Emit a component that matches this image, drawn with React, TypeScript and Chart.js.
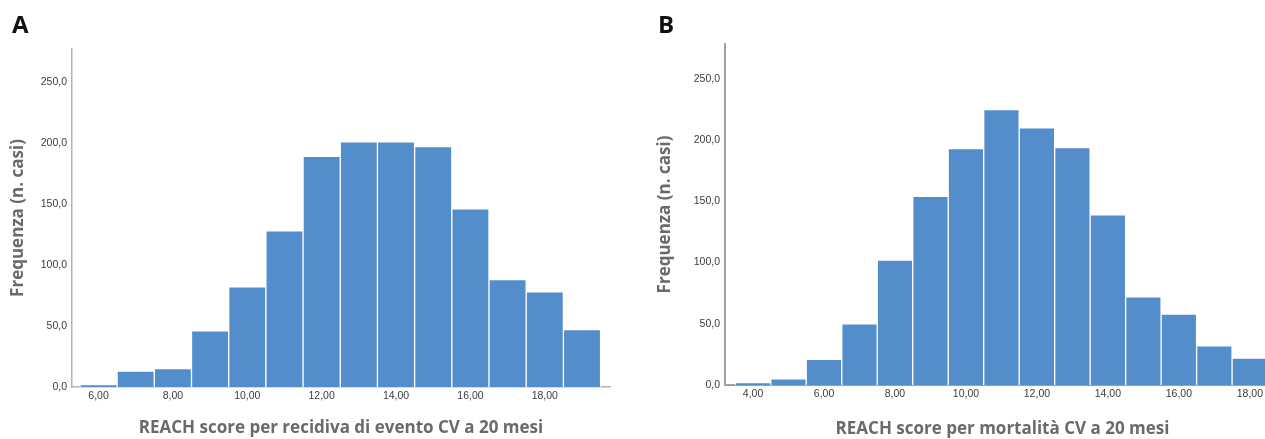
import React, { useEffect, useRef } from 'react';
import { Chart, registerables } from 'chart.js';

Chart.register(...registerables);

// ---- Data ----
const scoresA = [6, 7, 8, 9, 10, 11, 12, 13, 14, 15, 16, 17, 18, 19];
const countsA = [2, 13, 15, 46, 82, 128, 189, 201, 201, 197, 146, 88, 78, 47];
const xTicksA = [6, 8, 10, 12, 14, 16, 18];

const scoresB = [4, 5, 6, 7, 8, 9, 10, 11, 12, 13, 14, 15, 16, 17, 18];
const countsB = [2, 5, 21, 50, 102, 154, 193, 225, 210, 194, 139, 72, 58, 32, 22];
const xTicksB = [4, 6, 8, 10, 12, 14, 16, 18];

const yTicks = [0, 50, 100, 150, 200, 250];

const titleA = 'REACH score per recidiva di evento CV a 20 mesi';
const titleB = 'REACH score per mortalità CV a 20 mesi';
const yTitle = 'Frequenza (n. casi)';

const BAR_COLOR = '#548dcc';
const TITLE_COLOR = '#6a6a6a';
const TICK_COLOR = '#3c3c3c';

const fmtY = (v: number) => Number(v).toFixed(1).replace('.', ',');
const fmtX = (v: number) => Number(v).toFixed(2).replace('.', ',');

type PanelProps = {
  scores: number[];
  counts: number[];
  xTicks: number[];
  xMin: number;
  xMax: number;
  yMax: number;
  xTitle: string;
  width: number;
  height: number;
  padTop: number;
  padRight: number;
  yWidth: number;
  xHeight: number;
  yTitlePad: number;
  xTitlePadBottom: number;
  axisColor: string;
  axisWidth: number;
};

function Panel(p: PanelProps) {
  const ref = useRef<HTMLCanvasElement | null>(null);
  useEffect(() => {
    if (!ref.current) return;
    const chart = new Chart(ref.current, {
      type: 'bar',
      data: {
        datasets: [
          {
            data: p.scores.map((s, i) => ({ x: s, y: p.counts[i] })),
            backgroundColor: BAR_COLOR,
            borderColor: 'rgba(255,255,255,0.9)',
            borderWidth: 1,
            borderSkipped: 'start',
            barPercentage: 1,
            categoryPercentage: 1,
          } as any,
        ],
      },
      options: {
        responsive: false,
        animation: false,
        devicePixelRatio: 1,
        layout: { padding: { top: p.padTop, right: p.padRight, bottom: 0, left: 0 } },
        plugins: { legend: { display: false }, tooltip: { enabled: false } },
        scales: {
          x: {
            type: 'linear',
            min: p.xMin,
            max: p.xMax,
            offset: false,
            grid: { display: false, drawTicks: false },
            border: { display: true, color: p.axisColor, width: p.axisWidth },
            afterBuildTicks: (s: any) => {
              s.ticks = p.xTicks.map((v) => ({ value: v }));
            },
            afterFit: (s: any) => {
              s.height = p.xHeight;
            },
            ticks: {
              padding: 3,
              autoSkip: false,
              maxRotation: 0,
              color: TICK_COLOR,
              font: { family: 'Liberation Sans', size: 10.5 },
              callback: (v: any) => fmtX(v),
            },
            title: {
              display: true,
              text: p.xTitle,
              color: TITLE_COLOR,
              font: { family: 'Open Sans', size: 17, weight: 'bold' },
              padding: { top: 0, bottom: p.xTitlePadBottom },
            },
          },
          y: {
            type: 'linear',
            min: 0,
            max: p.yMax,
            grid: { display: false, drawTicks: false },
            border: { display: true, color: p.axisColor, width: p.axisWidth },
            afterBuildTicks: (s: any) => {
              s.ticks = yTicks.map((v) => ({ value: v }));
            },
            afterFit: (s: any) => {
              s.width = p.yWidth;
            },
            ticks: {
              padding: 5,
              color: TICK_COLOR,
              font: { family: 'Liberation Sans', size: 10.5 },
              callback: (v: any) => fmtY(v),
            },
            title: {
              display: true,
              text: yTitle,
              color: TITLE_COLOR,
              font: { family: 'Open Sans', size: 17, weight: 'bold' },
              padding: { top: p.yTitlePad, bottom: 0 },
            },
          },
        },
      } as any,
    });
    return () => chart.destroy();
  }, []);
  return <canvas ref={ref} width={p.width} height={p.height} style={{ display: 'block' }} />;
}

const letterStyle: React.CSSProperties = {
  position: 'absolute',
  top: 12,
  fontFamily: 'Open Sans',
  fontWeight: 'bold',
  fontSize: 24,
  lineHeight: '24px',
  color: '#111',
};

export default function App() {
  return (
    <div
      style={{
        position: 'fixed',
        left: 0,
        top: 0,
        width: 1265,
        height: 439,
        overflow: 'hidden',
        background: '#fff',
      }}
    >
      <div style={{ position: 'absolute', left: 0, top: 0 }}>
        <Panel
          scores={scoresA}
          counts={countsA}
          xTicks={xTicksA}
          xMin={5.287}
          xMax={19.753}
          yMax={277}
          xTitle={titleA}
          width={620}
          height={439}
          padTop={49}
          padRight={10}
          yWidth={72}
          xHeight={52}
          yTitlePad={7.5}
          xTitlePadBottom={1}
          axisColor="#b4b4b4"
          axisWidth={1.5}
        />
      </div>
      <div style={{ position: 'absolute', left: 620, top: 0 }}>
        <Panel
          scores={scoresB}
          counts={countsB}
          xTicks={xTicksB}
          xMin={3.21}
          xMax={18.85}
          yMax={278.5}
          xTitle={titleB}
          width={680}
          height={439}
          padTop={44}
          padRight={20}
          yWidth={105}
          xHeight={54}
          yTitlePad={35}
          xTitlePadBottom={0}
          axisColor="#a0a0a0"
          axisWidth={2}
        />
      </div>
      <div style={{ ...letterStyle, left: 12 }}>A</div>
      <div style={{ ...letterStyle, left: 658 }}>B</div>
    </div>
  );
}
